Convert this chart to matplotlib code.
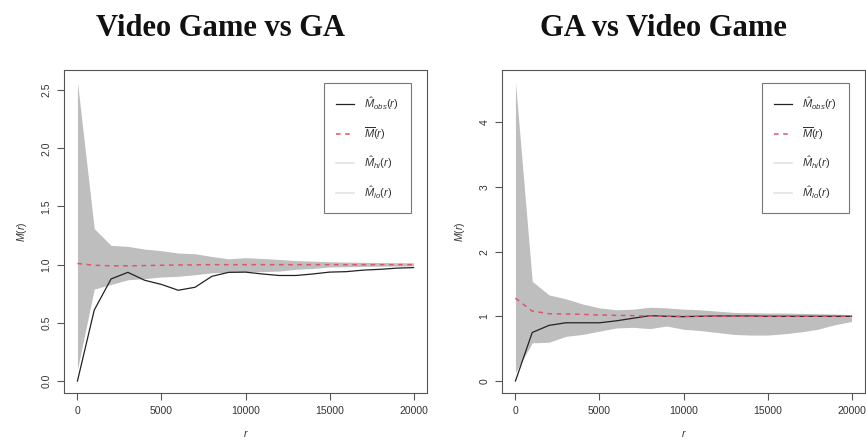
import matplotlib.pyplot as plt
import numpy as np

r = np.arange(0, 20001, 1000)

# Video Game vs GA
obs_left = [0.0, 0.61, 0.877, 0.934, 0.866, 0.83, 0.78, 0.806, 0.90, 0.934, 0.936,
            0.92, 0.907, 0.907, 0.92, 0.936, 0.94, 0.953, 0.96, 0.97, 0.975]
mean_left = [1.01, 0.995, 0.99, 0.99, 0.992, 0.995, 0.997, 0.998, 1.0, 1.0, 1.0,
             1.0, 1.0, 1.0, 1.0, 1.0, 1.0, 1.0, 1.0, 1.0, 1.0]
hi_left = [2.57, 1.31, 1.166, 1.157, 1.134, 1.12, 1.10, 1.094, 1.07, 1.05, 1.06,
           1.053, 1.045, 1.035, 1.03, 1.025, 1.022, 1.02, 1.018, 1.017, 1.016]
lo_left = [0.1, 0.79, 0.83, 0.87, 0.88, 0.894, 0.90, 0.914, 0.93, 0.934, 0.94,
           0.94, 0.945, 0.96, 0.967, 0.98, 0.982, 0.985, 0.987, 0.988, 0.99]

# GA vs Video Game
obs_right = [0.0, 0.75, 0.86, 0.90, 0.90, 0.90, 0.93, 0.97, 1.01, 1.0, 0.995,
             1.0, 1.005, 1.005, 1.005, 1.0, 1.0, 1.0, 1.0, 1.0, 1.0]
mean_right = [1.28, 1.08, 1.04, 1.035, 1.03, 1.02, 1.015, 1.01, 1.005, 1.0, 1.0,
              1.0, 1.0, 1.0, 1.0, 1.0, 1.0, 1.0, 1.0, 1.0, 1.0]
hi_right = [4.62, 1.54, 1.33, 1.27, 1.19, 1.13, 1.10, 1.11, 1.14, 1.13, 1.11,
            1.10, 1.08, 1.06, 1.055, 1.05, 1.05, 1.045, 1.04, 1.035, 1.025]
lo_right = [0.13, 0.59, 0.60, 0.69, 0.72, 0.77, 0.82, 0.83, 0.81, 0.85, 0.80,
            0.78, 0.75, 0.72, 0.71, 0.71, 0.73, 0.76, 0.80, 0.87, 0.92]

titles = ["Video Game vs GA", "GA vs Video Game"]
yticks_left = [0.0, 0.5, 1.0, 1.5, 2.0, 2.5]
yticks_right = [0, 1, 2, 3, 4]
xticks = [0, 5000, 10000, 15000, 20000]

plt.rcParams['font.family'] = ['Liberation Sans', 'DejaVu Sans']
plt.rcParams['mathtext.fontset'] = 'custom'
plt.rcParams['mathtext.it'] = 'Liberation Sans:italic'
plt.rcParams['mathtext.rm'] = 'Liberation Sans'

frame = '#555555'
txt = '#333333'
band = '#bebebe'
red = '#df536b'

fig = plt.figure(figsize=(8.66, 4.44), dpi=100)
ax1 = fig.add_axes([64 / 866, 51 / 444, 363 / 866, 323 / 444])
ax2 = fig.add_axes([502 / 866, 51 / 444, 363 / 866, 323 / 444])

panels = [
    (ax1, obs_left, mean_left, hi_left, lo_left, yticks_left, ["0.0", "0.5", "1.0", "1.5", "2.0", "2.5"]),
    (ax2, obs_right, mean_right, hi_right, lo_right, yticks_right, ["0", "1", "2", "3", "4"]),
]

for ax, obs, mean, hi, lo, yt, ytl in panels:
    ax.fill_between(r, lo, hi, color=band, lw=0)
    ax.plot(r, obs, color='#222222', lw=0.9, label=r'$\hat{M}_{obs}(r)$')
    ax.plot(r, mean, color=red, lw=1.1, ls=(0, (3, 3)), label=r'$\overline{M}(r)$')
    ax.plot([], [], color='#e0e0e0', lw=1.1, label=r'$\hat{M}_{hi}(r)$')
    ax.plot([], [], color='#e0e0e0', lw=1.1, label=r'$\hat{M}_{lo}(r)$')
    ymax = max(hi)
    ax.set_xlim(-800, 20800)
    ax.set_ylim(-0.04 * ymax, ymax * 1.04)
    ax.set_xticks(xticks)
    ax.set_yticks(yt)
    ax.set_yticklabels(ytl, rotation=90, va='center')
    ax.tick_params(direction='out', length=5, width=0.8, color=frame, labelcolor=txt,
                   labelsize=7.5, pad=4)
    for s in ax.spines.values():
        s.set_color(frame)
        s.set_linewidth(0.8)
    ax.set_xlabel(r'$r$', color=txt, fontsize=7.5, labelpad=9)
    ax.set_ylabel(r'$M(r)$', color=txt, fontsize=7.5, labelpad=9)
    leg = ax.legend(loc='upper right', bbox_to_anchor=(0.956, 0.96), fontsize=8,
                    frameon=True, fancybox=False, handlelength=1.6, labelspacing=1.15,
                    borderpad=1.1, handletextpad=0.9, borderaxespad=0)
    leg.get_frame().set_edgecolor(frame)
    leg.get_frame().set_linewidth(0.8)
    for t in leg.get_texts():
        t.set_color(txt)

fig.text(221 / 866, 1 - 28 / 444, titles[0], family=['Liberation Serif'], weight='bold',
         fontsize=22, ha='center', va='center', color='#111111')
fig.text(663 / 866, 1 - 28 / 444, titles[1], family=['Liberation Serif'], weight='bold',
         fontsize=22, ha='center', va='center', color='#111111')

plt.savefig("out.png", dpi=100)
